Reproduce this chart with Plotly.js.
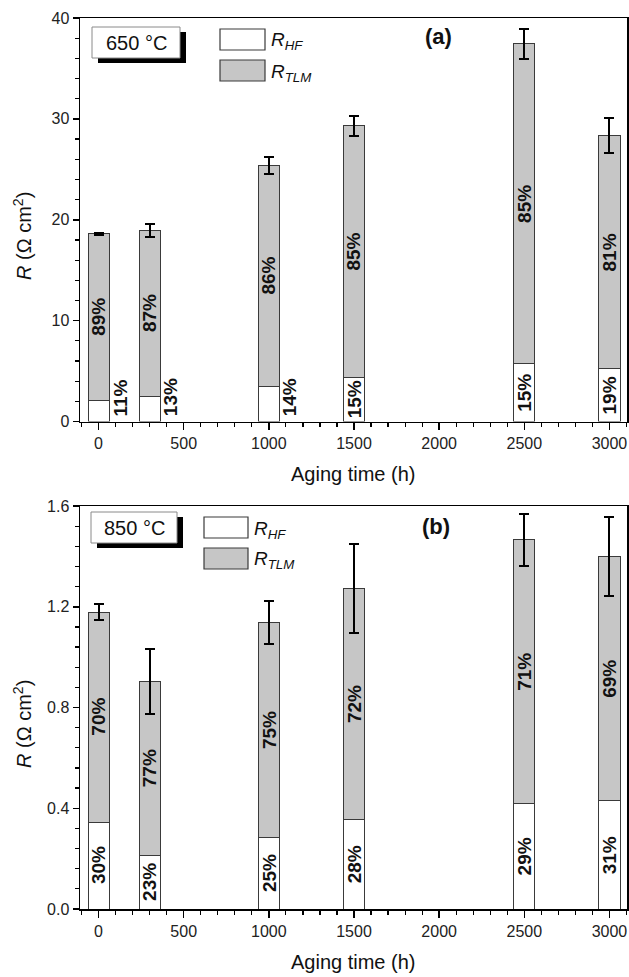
<!DOCTYPE html>
<html><head><meta charset="utf-8">
<script src="https://cdn.plot.ly/plotly-3.0.1.min.js"></script>
<style>html,body{margin:0;padding:0;background:#fff}</style>
</head><body><div id="chart" style="width:629px;height:977px"></div>
<script>
// ---- data ----
const agingTime = [0, 300, 1000, 1500, 2500, 3000];
const rHF_650  = [2.08, 2.5, 3.5, 4.4, 5.75, 5.25];
const rTLM_650 = [16.52, 16.44, 21.9, 24.9, 31.7, 23.1];
const err_650  = [0.1, 0.65, 0.87, 0.97, 1.5, 1.7];
const pctHF_650  = ['11%','13%','14%','15%','15%','19%'];
const pctTLM_650 = ['89%','87%','86%','85%','85%','81%'];
const rHF_850  = [0.345, 0.2125, 0.284, 0.355, 0.42, 0.43];
const rTLM_850 = [0.834, 0.69, 0.852, 0.917, 1.046, 0.971];
const err_850  = [0.033, 0.13, 0.085, 0.178, 0.104, 0.157];
const pctHF_850  = ['30%','23%','25%','28%','29%','31%'];
const pctTLM_850 = ['70%','77%','75%','72%','71%','69%'];
const xTickVals = [0, 500, 1000, 1500, 2000, 2500, 3000];
const panelTemps = ['650 °C', '850 °C'];
const panelTags = ['(a)', '(b)'];
const seriesNames = ['R<sub>HF</sub>', 'R<sub>TLM</sub>'];

// ---- geometry (pixels) ----
const W = 629, H = 977;
const L = 80, R = 2, T = 18, B = 68;
const plotW = W - L - R;
const topPanel = {top: 18, bottom: 421.5};
const botPanel = {top: 506, bottom: 909};
const paperH = H - T - B;
const dom = p => [(H - B - p.bottom) / paperH, (H - B - p.top) / paperH];
const dx = px => (px - L) / plotW;
const dyF = p => py => (p.bottom - py) / (p.bottom - p.top);

const FONT = 'Arial, "Liberation Sans", sans-serif';
const GRAY = '#c6c6c6';
const EDGE = '#3a3a3a';
const BARW = 124;

function barTraces(hf, tlm, err, xa, ya) {
  return [
    {type: 'bar', x: agingTime, y: hf, width: BARW, xaxis: xa, yaxis: ya,
     name: 'R_HF', showlegend: false, hoverinfo: 'x+y',
     marker: {color: '#ffffff', line: {color: EDGE, width: 1}}},
    {type: 'bar', x: agingTime, y: tlm, width: BARW, xaxis: xa, yaxis: ya,
     name: 'R_TLM', showlegend: false, hoverinfo: 'x+y',
     marker: {color: GRAY, line: {color: EDGE, width: 1}},
     error_y: {type: 'data', array: err, visible: true, color: '#000', thickness: 2, width: 5}}
  ];
}

const data = [
  ...barTraces(rHF_650, rTLM_650, err_650, 'x', 'y'),
  ...barTraces(rHF_850, rTLM_850, err_850, 'x2', 'y2')
];

function pctAnnotations(hf, tlm, pHF, pTLM, xr, yr, ymax) {
  const out = [];
  const lab = {size: 19, family: FONT, color: '#111'};
  agingTime.forEach((t, i) => {
    out.push({x: t, y: hf[i] + tlm[i] / 2, xref: xr, yref: yr, text: '<b>' + pTLM[i] + '</b>',
      textangle: -90, showarrow: false, font: lab, xanchor: 'center', yanchor: 'middle'});
    if (hf[i] / ymax > 0.1) {
      out.push({x: t, y: hf[i] / 2, xref: xr, yref: yr, text: '<b>' + pHF[i] + '</b>',
        textangle: -90, showarrow: false, font: lab, xanchor: 'center', yanchor: 'middle'});
    } else {
      out.push({x: t, y: 0, xref: xr, yref: yr, text: '<b>' + pHF[i] + '</b>',
        textangle: -90, showarrow: false, font: lab, xanchor: 'center', yanchor: 'bottom',
        xshift: 21, yshift: 3});
    }
  });
  return out;
}

function decor(p, xd, yd, idx, g) {
  const dy = dyF(p);
  const shapes = [
    {type: 'rect', xref: xd, yref: yd, x0: dx(g.box[0] + 6), x1: dx(g.box[1] + 6), y0: dy(g.box[3] + 5), y1: dy(g.box[2] + 5),
     fillcolor: '#000', line: {width: 0}},
    {type: 'rect', xref: xd, yref: yd, x0: dx(g.box[0]), x1: dx(g.box[1]), y0: dy(g.box[3]), y1: dy(g.box[2]),
     fillcolor: '#fff', line: {color: '#8a8a8a', width: 1}},
    {type: 'rect', xref: xd, yref: yd, x0: dx(g.leg[0]), x1: dx(g.leg[1]), y0: dy(g.leg[3]), y1: dy(g.leg[2]),
     fillcolor: '#fff', line: {color: EDGE, width: 1.2}},
    {type: 'rect', xref: xd, yref: yd, x0: dx(g.leg[0]), x1: dx(g.leg[1]), y0: dy(g.leg[3] + g.legGap), y1: dy(g.leg[2] + g.legGap),
     fillcolor: GRAY, line: {color: EDGE, width: 1.2}}
  ];
  const cy = (g.box[2] + g.box[3]) / 2;
  const ly = (g.leg[2] + g.leg[3]) / 2;
  const ital = s => '<i>' + s.replace('<sub>', '</i><sub><i>').replace('</sub>', '</i></sub>');
  const annots = [
    {xref: xd, yref: yd, x: dx((g.box[0] + g.box[1]) / 2), y: dy(cy), text: panelTemps[idx], showarrow: false,
     font: {size: 20, family: FONT, color: '#111'}, xanchor: 'center', yanchor: 'middle'},
    {xref: xd, yref: yd, x: dx(g.tag[0]), y: dy(g.tag[1]), text: '<b>' + panelTags[idx] + '</b>', showarrow: false,
     font: {size: 22, family: FONT, color: '#111'}, xanchor: 'center', yanchor: 'middle'},
    {xref: xd, yref: yd, x: dx(g.leg[1] + 4), y: dy(ly), text: ital(seriesNames[0]),
     showarrow: false, font: {size: 19, family: FONT, color: '#111'}, xanchor: 'left', yanchor: 'top', yshift: 12},
    {xref: xd, yref: yd, x: dx(g.leg[1] + 4), y: dy(ly + g.legGap), text: ital(seriesNames[1]),
     showarrow: false, font: {size: 19, family: FONT, color: '#111'}, xanchor: 'left', yanchor: 'top', yshift: 12},
    {xref: 'paper', yref: yd, x: dx(22), y: dy(p.top + 218), text: '<i>R</i> (Ω cm<sup>2</sup>)', textangle: -90,
     showarrow: false, font: {size: 20, family: FONT, color: '#111'}, xanchor: 'center', yanchor: 'middle'},
    {xref: xd, yref: yd, x: dx(353), y: dy(p.bottom + 53), text: 'Aging time (h)',
     showarrow: false, font: {size: 20, family: FONT, color: '#111'}, xanchor: 'center', yanchor: 'middle'}
  ];
  return {shapes, annots};
}

const gTop = {box: [92, 180, 27, 58], leg: [220, 265, 29, 50], legGap: 31, tag: [438, 36]};
const gBot = {box: [91, 177, 512, 543], leg: [204, 248, 517, 538], legGap: 31, tag: [436, 526]};
const dTop = decor(topPanel, 'x domain', 'y domain', 0, gTop);
const dBot = decor(botPanel, 'x2 domain', 'y2 domain', 1, gBot);

const xRange = [-109, 3103];
function xAxis(anchor) {
  return {domain: [0, 1], anchor: anchor, range: xRange, tickvals: xTickVals, ticktext: xTickVals.map(String),
    ticks: 'outside', ticklen: 7, tickwidth: 1.5, tickcolor: '#000',
    minor: {dtick: 100, tick0: 0, ticks: 'outside', ticklen: 4, tickwidth: 1.2, tickcolor: '#000'},
    showline: true, linecolor: '#000', linewidth: 1.5, mirror: true, showgrid: false, zeroline: false,
    tickfont: {size: 16, family: FONT, color: '#222'}, fixedrange: true};
}
function yAxis(anchor, domain, range, dtick, minor, fmt) {
  return {domain: domain, anchor: anchor, range: range, dtick: dtick, tick0: 0, tickformat: fmt,
    ticks: 'outside', ticklen: 6, tickwidth: 1.5, tickcolor: '#000',
    minor: {dtick: minor, tick0: 0, ticks: 'outside', ticklen: 4, tickwidth: 1.2, tickcolor: '#000'},
    showline: true, linecolor: '#000', linewidth: 1.5, mirror: true, showgrid: false, zeroline: false,
    tickfont: {size: 16, family: FONT, color: '#222'}, fixedrange: true};
}

const layout = {
  width: W, height: H,
  margin: {l: L, r: R, t: T, b: B},
  paper_bgcolor: '#fff', plot_bgcolor: '#fff',
  barmode: 'stack', showlegend: false,
  font: {family: FONT},
  xaxis: xAxis('y'),
  yaxis: yAxis('x', dom(topPanel), [0, 40], 10, 2, 'd'),
  xaxis2: xAxis('y2'),
  yaxis2: yAxis('x2', dom(botPanel), [0, 1.6], 0.4, 0.08, '.1f'),
  shapes: [...dTop.shapes, ...dBot.shapes],
  annotations: [
    ...pctAnnotations(rHF_650, rTLM_650, pctHF_650, pctTLM_650, 'x', 'y', 40),
    ...pctAnnotations(rHF_850, rTLM_850, pctHF_850, pctTLM_850, 'x2', 'y2', 1.6),
    ...dTop.annots, ...dBot.annots
  ]
};

Plotly.newPlot('chart', data, layout, {displayModeBar: false, staticPlot: true});
</script>
</body></html>
